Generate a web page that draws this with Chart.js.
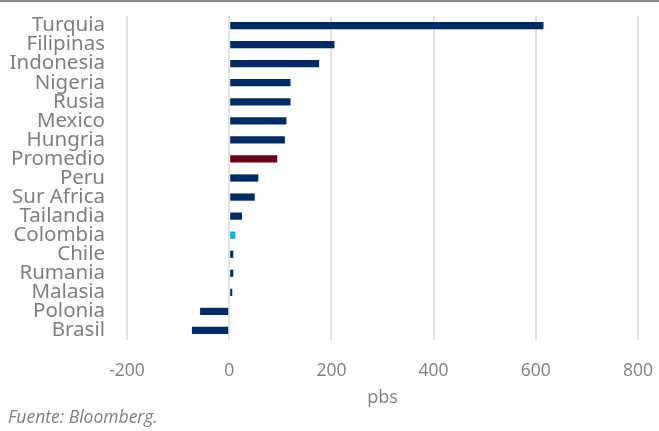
<!DOCTYPE html>
<html>
<head>
<meta charset="utf-8">
<script src="https://cdn.jsdelivr.net/npm/chart.js@4.4.1/dist/chart.umd.min.js"></script>
<style>
  html, body { margin: 0; padding: 0; background: #fff; }
  body { width: 659px; height: 431px; position: relative; overflow: hidden; }
  #topline { position: absolute; left: 0; top: 0; width: 659px; height: 2px; background: #8c8c8c; }
  #wrap { position: absolute; left: 0; top: 0; width: 659px; height: 410px; }
  #note { position: absolute; left: 8px; top: 406px; font: italic 17.5px/20px "Open Sans", sans-serif; color: #7f7f7f; }
</style>
</head>
<body>
<div id="wrap"><canvas id="chart"></canvas></div>
<div id="topline"></div>
<div id="note">Fuente: Bloomberg.</div>
<script>
// Spread data (pbs)
const paises = ["Turquia", "Filipinas", "Indonesia", "Nigeria", "Rusia", "Mexico", "Hungria", "Promedio",
  "Peru", "Sur Africa", "Tailandia", "Colombia", "Chile", "Rumania", "Malasia", "Polonia", "Brasil"]
const valores = [615, 206, 176, 120, 120, 112, 109, 94, 57, 50, 25, 12, 8, 8, 6, -57, -73]
const xTicks = [-200, 0, 200, 400, 600, 800]

const colores = paises.map(p => {
  if (p === "Promedio") return "#6b0019"
  if (p === "Colombia") return "#00b0f0"
  return "#002b66"
})

const gris = "#7f7f7f"

new Chart(document.getElementById("chart"), {
  type: "bar",
  data: {
    labels: paises,
    datasets: [{
      data: valores,
      backgroundColor: colores,
      barPercentage: 0.38,
      categoryPercentage: 1,
    }],
  },
  options: {
    indexAxis: "y",
    responsive: true,
    maintainAspectRatio: false,
    animation: false,
    layout: { padding: { left: 0, right: 21, top: 16, bottom: 0 } },
    plugins: {
      legend: { display: false },
      tooltip: { enabled: false },
    },
    scales: {
      x: {
        min: -200,
        max: 800,
        afterBuildTicks: axis => { axis.ticks = xTicks.map(v => ({ value: v })) },
        afterFit: s => { s.height = 70; s.paddingLeft = 0; s.paddingRight = 0 },
        grid: { color: "#e3e3e3", lineWidth: 2, drawTicks: false },
        border: { display: false },
        ticks: { color: gris, font: { family: "Open Sans", size: 17.5 }, padding: 21 },
        title: { display: true, text: "pbs", color: gris, font: { family: "Open Sans", size: 18 }, padding: { top: 0, bottom: 1 } },
      },
      y: {
        afterFit: s => { s.width = 127; s.paddingTop = 0; s.paddingBottom = 0 },
        grid: { display: false, drawTicks: false },
        border: { display: false },
        ticks: { color: gris, autoSkip: false, font: { family: "Noto Sans", size: 20.5 }, padding: 22 },
      },
    },
  },
})
</script>
</body>
</html>
